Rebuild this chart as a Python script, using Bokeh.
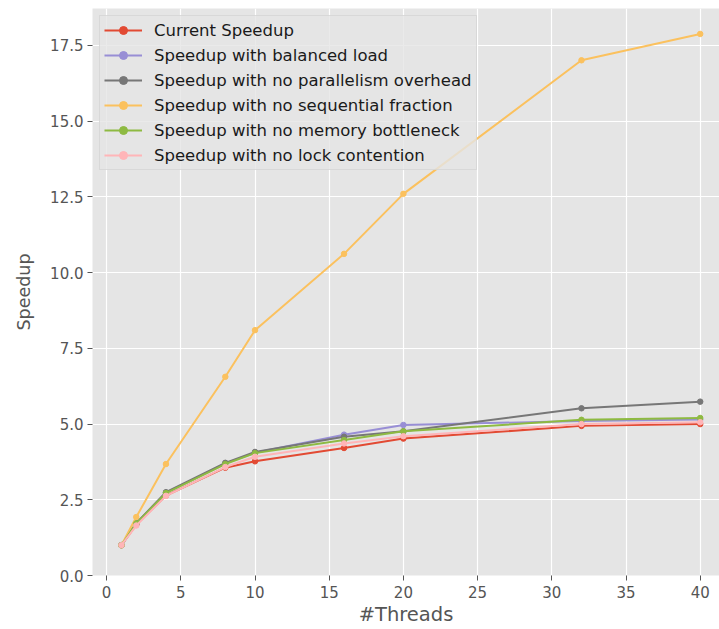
from bokeh.plotting import figure
from bokeh.models import Range1d, FixedTicker, NumeralTickFormatter, Legend, LegendItem
from bokeh.embed import file_html
from bokeh.resources import INLINE

threads = [1, 2, 4, 8, 10, 16, 20, 32, 40]
current = [1.0, 1.68, 2.64, 3.56, 3.77, 4.21, 4.52, 4.94, 5.0]
balanced = [1.0, 1.72, 2.73, 3.70, 4.05, 4.65, 4.97, 5.10, 5.15]
no_overhead = [1.0, 1.73, 2.75, 3.72, 4.08, 4.58, 4.76, 5.52, 5.74]
no_sequential = [1.0, 1.93, 3.68, 6.56, 8.10, 10.62, 12.60, 17.01, 17.88]
no_memory = [1.0, 1.72, 2.72, 3.68, 4.04, 4.47, 4.76, 5.14, 5.20]
no_lock = [1.0, 1.65, 2.63, 3.58, 3.92, 4.36, 4.60, 5.00, 5.06]

series_names = [
    "Current Speedup",
    "Speedup with balanced load",
    "Speedup with no parallelism overhead",
    "Speedup with no sequential fraction",
    "Speedup with no memory bottleneck",
    "Speedup with no lock contention",
]
series_values = [current, balanced, no_overhead, no_sequential, no_memory, no_lock]
colors = ["#E24A33", "#988ED5", "#777777", "#FBC15E", "#8EBA42", "#FFB5B8"]

x_ticks = [0, 5, 10, 15, 20, 25, 30, 35, 40]
y_ticks = [0.0, 2.5, 5.0, 7.5, 10.0, 12.5, 15.0, 17.5]

p = figure(width=719, height=629, output_backend="svg", toolbar_location=None,
           x_range=Range1d(-0.95, 41.3), y_range=Range1d(0, 18.72),
           min_border_left=92, min_border_right=0, min_border_top=8, min_border_bottom=54)

p.background_fill_color = "#E5E5E5"
p.border_fill_color = "white"
p.outline_line_color = None

for g in (p.xgrid, p.ygrid):
    g.grid_line_color = "white"
    g.grid_line_width = 1.2

items = []
for name, vals, col in zip(series_names, series_values, colors):
    r1 = p.line(threads, vals, line_color=col, line_width=2)
    r2 = p.scatter(threads, vals, size=5.5, fill_color=col, line_color=col)
    items.append(LegendItem(label=name, renderers=[r1, r2]))

legend = Legend(items=items, location="top_left")
legend.margin = 7
legend.padding = 4
legend.spacing = 5
legend.glyph_width = 38
legend.glyph_height = 20
legend.label_height = 20
legend.label_standoff = 12
legend.label_text_font = "DejaVu Sans"
legend.label_text_font_size = "16.5px"
legend.label_text_color = "#1a1a1a"
legend.background_fill_color = "#E5E5E5"
legend.background_fill_alpha = 0.8
legend.border_line_color = "#CCCCCC"
legend.border_line_width = 1
p.add_layout(legend, "center")

for ax in (p.xaxis, p.yaxis):
    ax.axis_line_color = None
    ax.major_tick_line_color = "#555555"
    ax.major_tick_out = 5
    ax.major_tick_in = 0
    ax.minor_tick_line_color = None
    ax.major_label_text_font = "DejaVu Sans"
    ax.major_label_text_font_size = "15px"
    ax.major_label_text_color = "#555555"
    ax.axis_label_text_font = "DejaVu Sans"
    ax.axis_label_text_font_style = "normal"
    ax.axis_label_text_color = "#555555"

p.xaxis.axis_label_text_font_size = "19.5px"
p.yaxis.axis_label_text_font_size = "17.5px"
p.xaxis.ticker = FixedTicker(ticks=x_ticks)
p.yaxis.ticker = FixedTicker(ticks=y_ticks)
p.yaxis.formatter = NumeralTickFormatter(format="0.0")
p.xaxis.axis_label = "#Threads"
p.yaxis.axis_label = "Speedup"
p.xaxis.major_label_standoff = 5
p.yaxis.major_label_standoff = 4
p.xaxis.axis_label_standoff = 2
p.yaxis.axis_label_standoff = 13

open("out.html", "w").write(file_html(p, INLINE))
